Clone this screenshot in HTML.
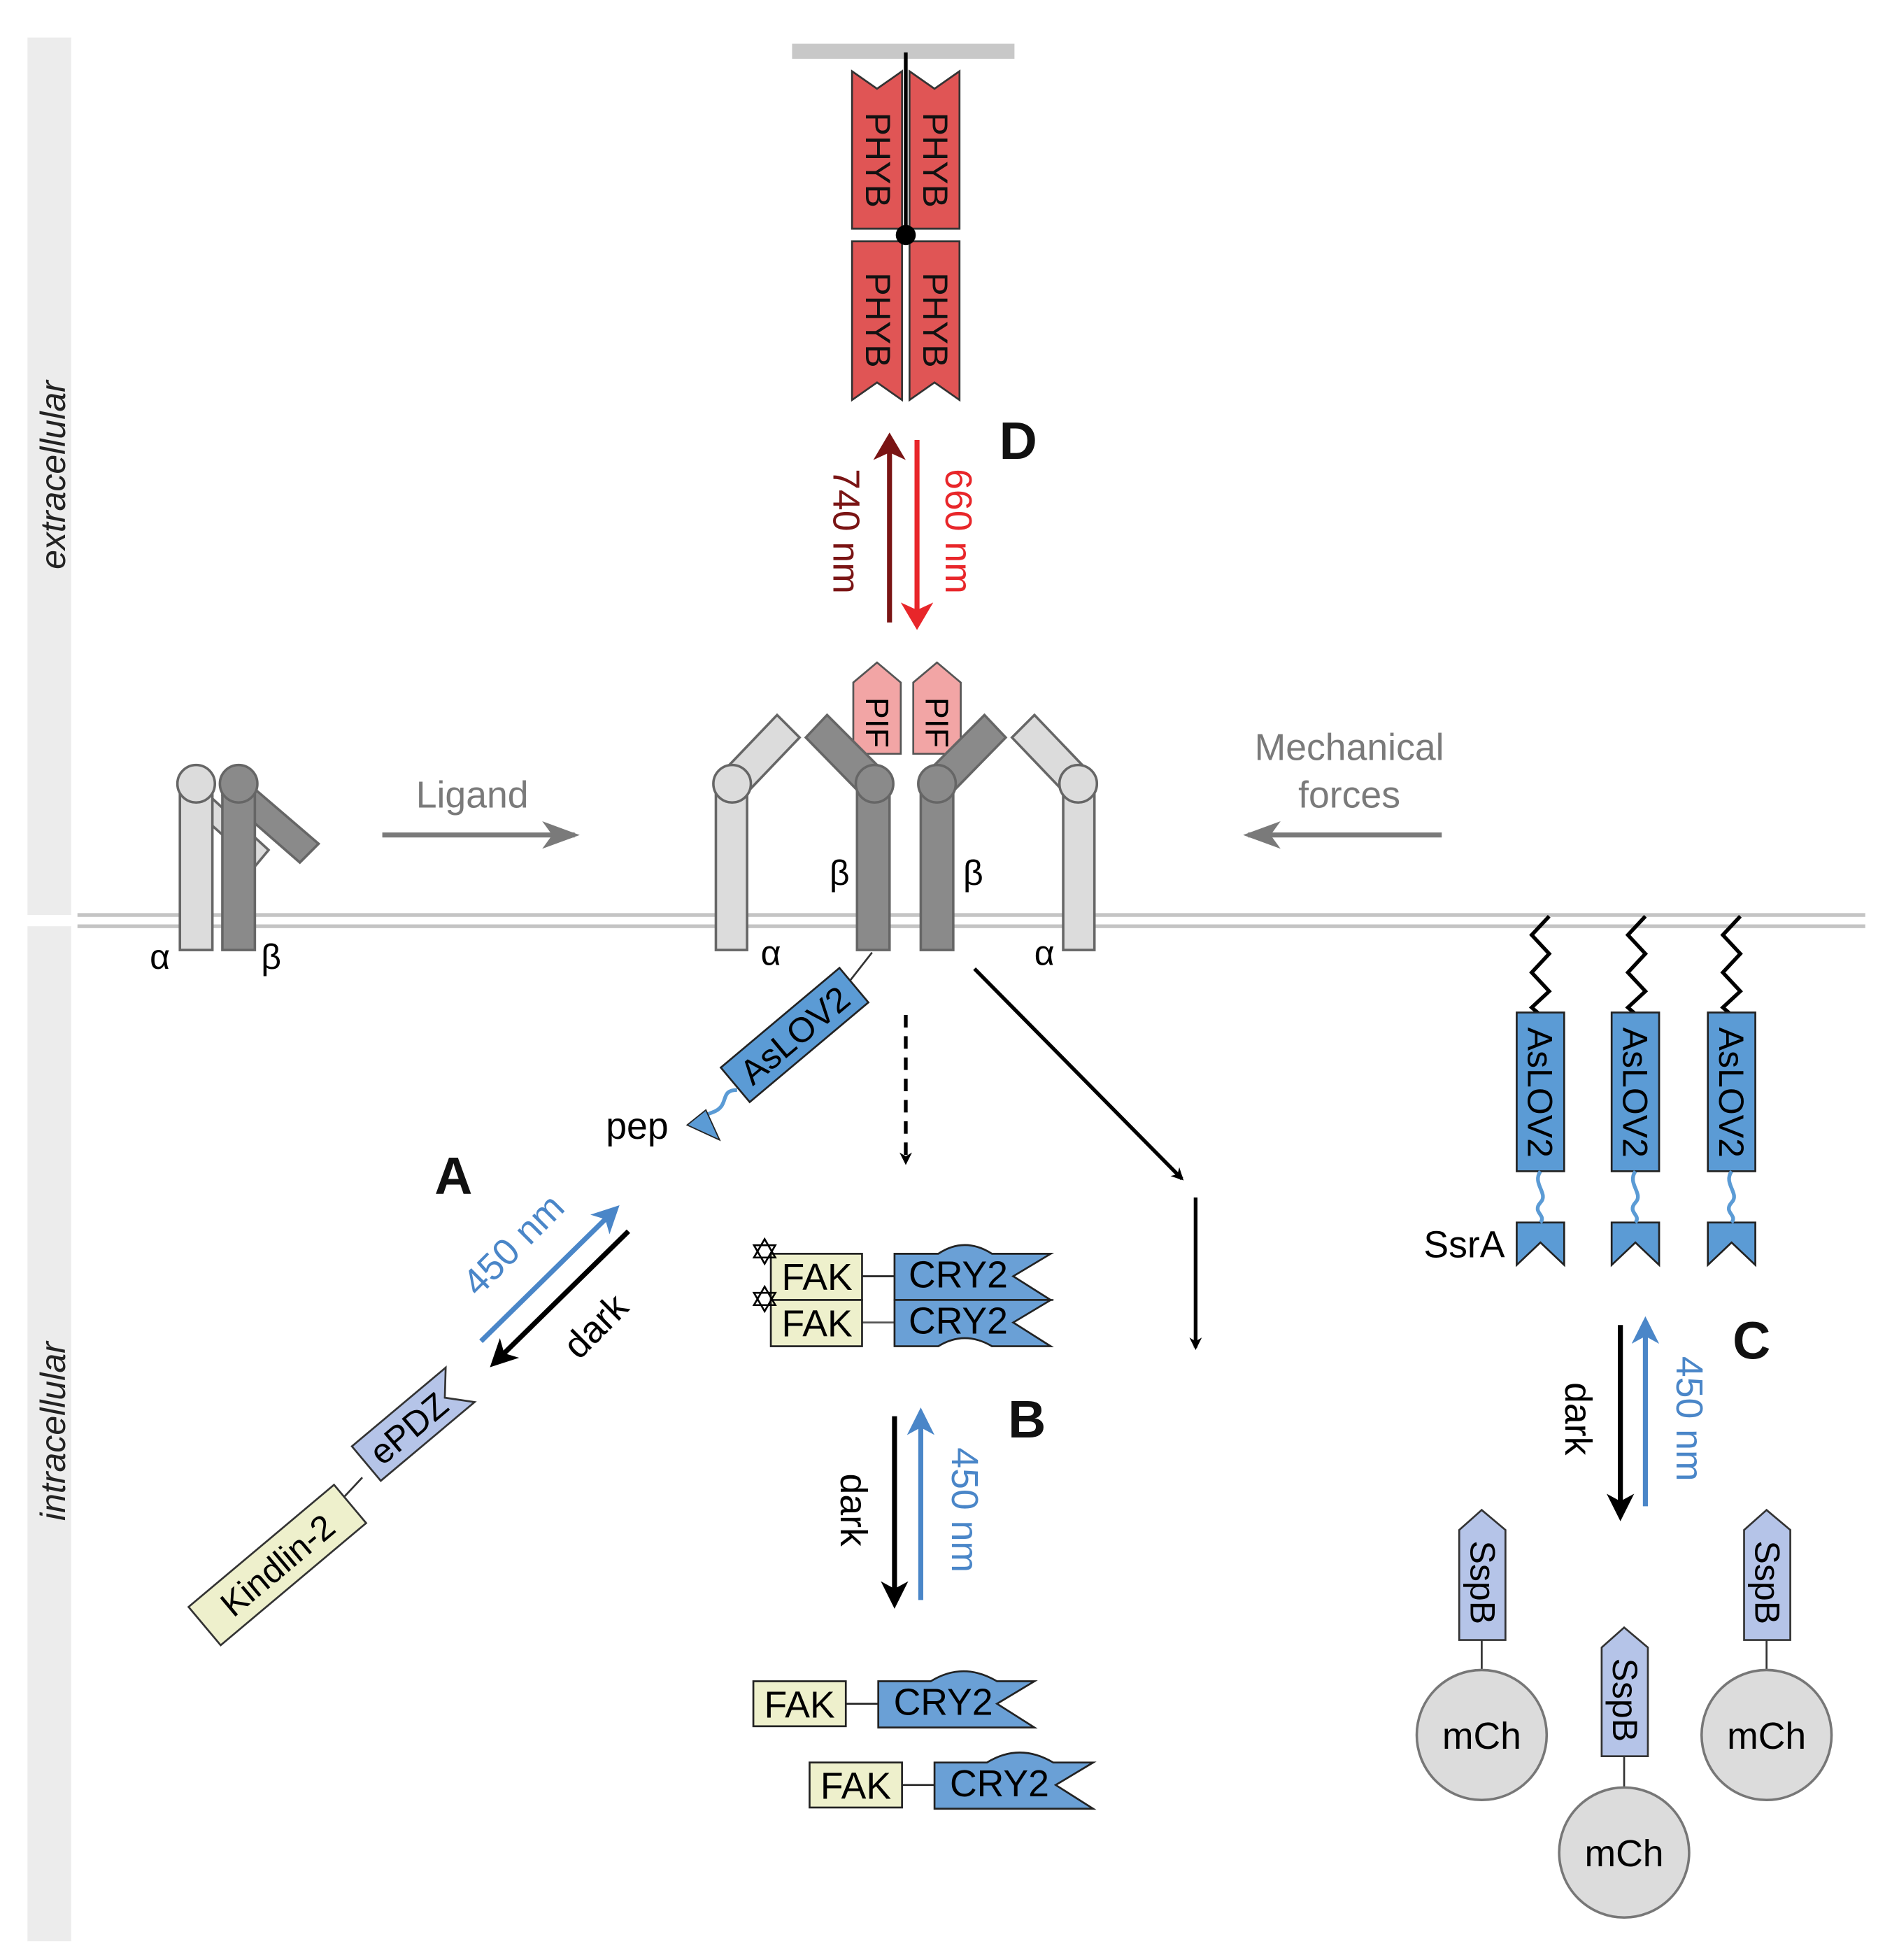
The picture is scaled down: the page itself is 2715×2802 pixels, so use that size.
<!DOCTYPE html>
<html><head><meta charset="utf-8"><style>
html,body{margin:0;padding:0;background:#fff;}
svg{display:block;}
text{font-family:"Liberation Sans","DejaVu Sans",sans-serif;}
</style></head><body>
<svg width="2715" height="2802" viewBox="0 0 1520 1568" preserveAspectRatio="none" xmlns="http://www.w3.org/2000/svg">
<defs>
<marker id="ak" markerWidth="10" markerHeight="10" refX="8" refY="5" orient="auto" markerUnits="userSpaceOnUse"><path d="M0,0 L10,5 L0,10 L3,5 Z" fill="#000"/></marker>
<marker id="akL" markerWidth="22" markerHeight="22" refX="18" refY="11" orient="auto" markerUnits="userSpaceOnUse"><path d="M0,0 L22,11 L0,22 L6,11 Z" fill="#000"/></marker>
<marker id="ab" markerWidth="22" markerHeight="22" refX="18" refY="11" orient="auto" markerUnits="userSpaceOnUse"><path d="M0,0 L22,11 L0,22 L6,11 Z" fill="#4a86c8"/></marker>
<marker id="ag" markerWidth="30" markerHeight="22" refX="26" refY="11" orient="auto" markerUnits="userSpaceOnUse"><path d="M0,0 L30,11 L0,22 L8,11 Z" fill="#7a7a7a"/></marker>
<marker id="ar" markerWidth="22" markerHeight="26" refX="18" refY="13" orient="auto" markerUnits="userSpaceOnUse"><path d="M0,0 L22,13 L0,26 L6,13 Z" fill="#e8262a"/></marker>
<marker id="adr" markerWidth="22" markerHeight="26" refX="18" refY="13" orient="auto" markerUnits="userSpaceOnUse"><path d="M0,0 L22,13 L0,26 L6,13 Z" fill="#7a1414"/></marker>
</defs>

<rect x="22" y="30" width="35" height="702" fill="#ececec"/>
<rect x="22" y="741" width="35" height="812" fill="#ececec"/>
<text transform="translate(52,380) rotate(-90)" text-anchor="middle" font-size="28" font-style="italic" fill="#222">extracellular</text>
<text transform="translate(52,1145) rotate(-90)" text-anchor="middle" font-size="28" font-style="italic" fill="#222">intracellular</text>

<line x1="62" y1="732" x2="1493" y2="732" stroke="#c4c4c4" stroke-width="3"/>
<line x1="62" y1="741" x2="1493" y2="741" stroke="#c4c4c4" stroke-width="3"/>

<rect x="634" y="35" width="178" height="12" fill="#c8c8c8"/>
<g fill="#e05555" stroke="#333" stroke-width="1.5">
<path transform="translate(682,57)" d="M0,0 L20,14 L40,0 V126 H0 Z"/>
<path transform="translate(728,57)" d="M0,0 L20,14 L40,0 V126 H0 Z"/>
<path transform="translate(682,193)" d="M0,0 H40 V127 L20,113 L0,127 Z"/>
<path transform="translate(728,193)" d="M0,0 H40 V127 L20,113 L0,127 Z"/>
</g>
<g font-size="28" fill="#111" text-anchor="middle">
<text transform="translate(693,128) rotate(90)">PHYB</text>
<text transform="translate(739,128) rotate(90)">PHYB</text>
<text transform="translate(693,256) rotate(90)">PHYB</text>
<text transform="translate(739,256) rotate(90)">PHYB</text>
</g>
<line x1="725" y1="42" x2="725" y2="188" stroke="#000" stroke-width="3"/>
<circle cx="725" cy="188" r="8" fill="#000"/>
<text x="815" y="367" font-size="42" font-weight="bold" text-anchor="middle" fill="#111">D</text>

<line x1="712" y1="498" x2="712" y2="350" stroke="#7a1414" stroke-width="4" marker-end="url(#adr)"/>
<line x1="734" y1="352" x2="734" y2="500" stroke="#e8262a" stroke-width="4" marker-end="url(#ar)"/>
<text transform="translate(667,425) rotate(90)" text-anchor="middle" font-size="30" fill="#7a1414">740 nm</text>
<text transform="translate(757,425) rotate(90)" text-anchor="middle" font-size="30" fill="#e8262a">660 nm</text>

<g stroke="#666" stroke-width="2">
<path d="M157,627 L215,680 L205,692 L147,640 Z" fill="#dcdcdc"/>
<rect x="144" y="628" width="26" height="132" fill="#dcdcdc"/>
<circle cx="157" cy="627" r="15" fill="#dcdcdc"/>
<path d="M185,615 L255,675 L240,690 L178,636 Z" fill="#8a8a8a"/>
<rect x="178" y="628" width="26" height="132" fill="#8a8a8a"/>
<circle cx="191" cy="627" r="15" fill="#8a8a8a"/>
</g>
<text x="128" y="775" font-size="28" text-anchor="middle">α</text>
<text x="217" y="775" font-size="28" text-anchor="middle">β</text>

<text x="378" y="646" font-size="30" fill="#7a7a7a" text-anchor="middle">Ligand</text>
<line x1="306" y1="668" x2="460" y2="668" stroke="#7a7a7a" stroke-width="4" marker-end="url(#ag)"/>
<text x="1080" y="608" font-size="30" fill="#7a7a7a" text-anchor="middle">Mechanical</text>
<text x="1080" y="646" font-size="30" fill="#7a7a7a" text-anchor="middle">forces</text>
<line x1="1154" y1="668" x2="999" y2="668" stroke="#7a7a7a" stroke-width="4" marker-end="url(#ag)"/>

<g fill="#f2a5a5" stroke="#555" stroke-width="1.5">
<path transform="translate(683,530)" d="M0,16 L19,0 L38,16 V73 H0 Z"/>
<path transform="translate(731,530)" d="M0,16 L19,0 L38,16 V73 H0 Z"/>
</g>
<text transform="translate(693,578) rotate(90)" text-anchor="middle" font-size="26">PIF</text>
<text transform="translate(741,578) rotate(90)" text-anchor="middle" font-size="26">PIF</text>

<g stroke="#666" stroke-width="2">
<path d="M578,618 L622,572 L640,590 L596,636 Z" fill="#dcdcdc"/>
<path d="M872,618 L828,572 L810,590 L854,636 Z" fill="#dcdcdc"/>
<path d="M662,572 L708,618 L690,636 L645,590 Z" fill="#8a8a8a"/>
<path d="M788,572 L742,618 L760,636 L805,590 Z" fill="#8a8a8a"/>
<rect x="573" y="628" width="25" height="132" fill="#dcdcdc"/>
<circle cx="586" cy="627" r="15" fill="#dcdcdc"/>
<rect x="851" y="628" width="25" height="132" fill="#dcdcdc"/>
<circle cx="863" cy="627" r="15" fill="#dcdcdc"/>
<rect x="686" y="628" width="26" height="132" fill="#8a8a8a"/>
<circle cx="700" cy="627" r="15" fill="#8a8a8a"/>
<rect x="737" y="628" width="26" height="132" fill="#8a8a8a"/>
<circle cx="750" cy="627" r="15" fill="#8a8a8a"/>
</g>
<g font-size="28" text-anchor="middle">
<text x="672" y="708">β</text><text x="779" y="708">β</text>
<text x="617" y="772">α</text><text x="836" y="772">α</text>
</g>

<line x1="698" y1="762" x2="680" y2="785" stroke="#333" stroke-width="1.5"/>
<g transform="translate(636,828) rotate(-40)">
<rect x="-62" y="-18" width="124" height="36" fill="#5b9bd5" stroke="#222" stroke-width="1.5"/>
<text x="0" y="10" text-anchor="middle" font-size="28">AsLOV2</text>
</g>
<path d="M590,872 C575,872 585,885 570,890 C560,893 565,898 560,900" fill="none" stroke="#5b9bd5" stroke-width="3"/>
<path d="M550,900 L565,888 L576,912 Z" fill="#5b9bd5" stroke="#222" stroke-width="1"/>
<text x="510" y="911" font-size="30" text-anchor="middle">pep</text>
<text x="363" y="955" font-size="42" font-weight="bold" text-anchor="middle" fill="#111">A</text>
<line x1="385" y1="1073" x2="493" y2="967" stroke="#4a86c8" stroke-width="4" marker-end="url(#ab)"/>
<line x1="503" y1="985" x2="395" y2="1091" stroke="#000" stroke-width="4" marker-end="url(#akL)"/>
<text transform="translate(418,1003) rotate(-45)" text-anchor="middle" font-size="30" fill="#4a86c8">450 nm</text>
<text transform="translate(484,1068) rotate(-45)" text-anchor="middle" font-size="30">dark</text>
<line x1="290" y1="1182" x2="275" y2="1198" stroke="#333" stroke-width="1.5"/>
<g transform="translate(330,1140) rotate(-40)">
<path d="M-48,-18 H50 L34,0 L50,18 H-48 Z" fill="#b5c4e8" stroke="#333" stroke-width="1.5"/>
<text x="-4" y="10" text-anchor="middle" font-size="28">ePDZ</text>
</g>
<g transform="translate(222,1252) rotate(-40)">
<rect x="-76" y="-20" width="152" height="40" fill="#eef0cc" stroke="#333" stroke-width="1.5"/>
<text x="0" y="10" text-anchor="middle" font-size="28">Kindlin-2</text>
</g>

<line x1="725" y1="812" x2="725" y2="930" stroke="#000" stroke-width="3" stroke-dasharray="10,7" marker-end="url(#ak)"/>
<line x1="780" y1="775" x2="946" y2="943" stroke="#000" stroke-width="3" marker-end="url(#ak)"/>
<line x1="957" y1="958" x2="957" y2="1078" stroke="#000" stroke-width="3" marker-end="url(#ak)"/>

<line x1="690" y1="1021" x2="716" y2="1021" stroke="#222" stroke-width="1.5"/>
<line x1="690" y1="1058" x2="716" y2="1058" stroke="#555" stroke-width="1.5"/>
<rect x="617" y="1003" width="73" height="37" fill="#eef0cc" stroke="#222" stroke-width="1.5"/>
<rect x="617" y="1040" width="73" height="37" fill="#eef0cc" stroke="#222" stroke-width="1.5"/>
<path transform="translate(716,1003)" d="M0,0 H35 Q56,-14 78,0 H125 L95,18 L125,37 H0 Z" fill="#6aa0d6" stroke="#222" stroke-width="1.5"/>
<path transform="translate(716,1040)" d="M0,0 H125 L95,18 L125,37 H78 Q56,24 35,37 H0 Z" fill="#6aa0d6" stroke="#222" stroke-width="1.5"/>
<g font-size="30" text-anchor="middle">
<text x="654" y="1032">FAK</text><text x="654" y="1069">FAK</text>
<text x="767" y="1030">CRY2</text><text x="767" y="1067">CRY2</text>
</g>
<text x="612" y="1012" font-size="30" text-anchor="middle">✡</text>
<text x="612" y="1050" font-size="30" text-anchor="middle">✡</text>
<text x="822" y="1150" font-size="42" font-weight="bold" text-anchor="middle" fill="#111">B</text>
<line x1="716" y1="1133" x2="716" y2="1283" stroke="#000" stroke-width="4" marker-end="url(#akL)"/>
<line x1="737" y1="1280" x2="737" y2="1130" stroke="#4a86c8" stroke-width="4" marker-end="url(#ab)"/>
<text transform="translate(673,1208) rotate(90)" text-anchor="middle" font-size="30">dark</text>
<text transform="translate(762,1208) rotate(90)" text-anchor="middle" font-size="30" fill="#4a86c8">450 nm</text>

<line x1="677" y1="1363" x2="703" y2="1363" stroke="#222" stroke-width="1.5"/>
<rect x="603" y="1345" width="74" height="36" fill="#eef0cc" stroke="#222" stroke-width="1.5"/>
<path transform="translate(703,1345)" d="M0,0 H42 Q68,-16 95,0 H125 L95,18 L125,37 H0 Z" fill="#6aa0d6" stroke="#222" stroke-width="1.5"/>
<line x1="722" y1="1428" x2="748" y2="1428" stroke="#222" stroke-width="1.5"/>
<rect x="648" y="1410" width="74" height="36" fill="#eef0cc" stroke="#222" stroke-width="1.5"/>
<path transform="translate(748,1410)" d="M0,0 H42 Q68,-16 95,0 H127 L97,18 L127,37 H0 Z" fill="#6aa0d6" stroke="#222" stroke-width="1.5"/>
<g font-size="30" text-anchor="middle">
<text x="640" y="1374">FAK</text><text x="755" y="1372">CRY2</text>
<text x="685" y="1439">FAK</text><text x="800" y="1437">CRY2</text>
</g>

<g fill="none" stroke="#000" stroke-width="3">
<path d="M1240,733 L1226,748 L1240,763 L1226,778 L1240,793 L1226,806 L1233,812"/>
<path d="M1317,733 L1303,748 L1317,763 L1303,778 L1317,793 L1303,806 L1310,812"/>
<path d="M1393,733 L1379,748 L1393,763 L1379,778 L1393,793 L1379,806 L1386,812"/>
</g>
<g fill="#5b9bd5" stroke="#222" stroke-width="1.5">
<rect x="1214" y="810" width="38" height="127"/>
<rect x="1290" y="810" width="38" height="127"/>
<rect x="1367" y="810" width="38" height="127"/>
<path transform="translate(1214,978)" d="M0,0 H38 V34 L19,16 L0,34 Z"/>
<path transform="translate(1290,978)" d="M0,0 H38 V34 L19,16 L0,34 Z"/>
<path transform="translate(1367,978)" d="M0,0 H38 V34 L19,16 L0,34 Z"/>
</g>
<g fill="none" stroke="#5b9bd5" stroke-width="3">
<path d="M1233,937 C1226,947 1240,955 1233,962 C1226,970 1238,972 1233,978"/>
<path d="M1309,937 C1302,947 1316,955 1309,962 C1302,970 1314,972 1309,978"/>
<path d="M1386,937 C1379,947 1393,955 1386,962 C1379,970 1391,972 1386,978"/>
</g>
<g font-size="28" text-anchor="middle">
<text transform="translate(1223,874) rotate(90)">AsLOV2</text>
<text transform="translate(1299,874) rotate(90)">AsLOV2</text>
<text transform="translate(1376,874) rotate(90)">AsLOV2</text>
</g>
<text x="1172" y="1006" font-size="30" text-anchor="middle">SsrA</text>
<text x="1402" y="1087" font-size="42" font-weight="bold" text-anchor="middle" fill="#111">C</text>
<line x1="1297" y1="1060" x2="1297" y2="1213" stroke="#000" stroke-width="4" marker-end="url(#akL)"/>
<line x1="1317" y1="1205" x2="1317" y2="1057" stroke="#4a86c8" stroke-width="4" marker-end="url(#ab)"/>
<text transform="translate(1253,1135) rotate(90)" text-anchor="middle" font-size="30">dark</text>
<text transform="translate(1342,1135) rotate(90)" text-anchor="middle" font-size="30" fill="#4a86c8">450 nm</text>

<g stroke="#333" stroke-width="1.5">
<line x1="1186" y1="1312" x2="1186" y2="1336"/>
<line x1="1300" y1="1405" x2="1300" y2="1430"/>
<line x1="1414" y1="1312" x2="1414" y2="1336"/>
</g>
<g fill="#b5c4e8" stroke="#333" stroke-width="1.5">
<path transform="translate(1168,1208)" d="M0,16 L18,0 L37,16 V104 H0 Z"/>
<path transform="translate(1282,1302)" d="M0,16 L18,0 L37,16 V103 H0 Z"/>
<path transform="translate(1396,1208)" d="M0,16 L18,0 L37,16 V104 H0 Z"/>
</g>
<g font-size="28" text-anchor="middle">
<text transform="translate(1177,1266) rotate(90)">SspB</text>
<text transform="translate(1291,1360) rotate(90)">SspB</text>
<text transform="translate(1405,1266) rotate(90)">SspB</text>
</g>
<g fill="#dcdcdc" stroke="#777" stroke-width="2">
<circle cx="1186" cy="1388" r="52"/>
<circle cx="1300" cy="1482" r="52"/>
<circle cx="1414" cy="1388" r="52"/>
</g>
<g font-size="30" text-anchor="middle">
<text x="1186" y="1399">mCh</text>
<text x="1300" y="1493">mCh</text>
<text x="1414" y="1399">mCh</text>
</g>
</svg>
</body></html>
